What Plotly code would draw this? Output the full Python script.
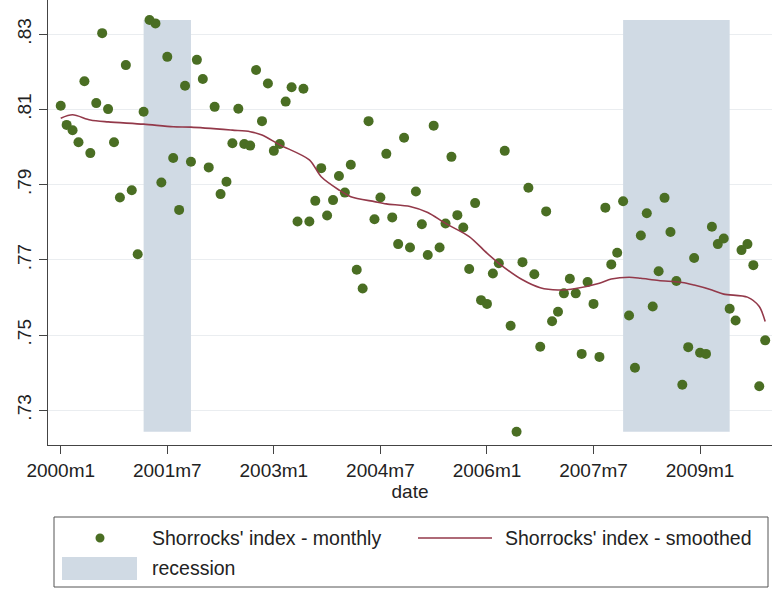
import plotly.graph_objects as go

# Shorrocks' mobility index, monthly observations 2000m1 .. 2009m12
monthly = [
    0.8110, 0.8059, 0.8045, 0.8013, 0.8175, 0.7984, 0.8117, 0.8303, 0.8101, 0.8013,
    0.7866, 0.8218, 0.7885, 0.7715, 0.8094, 0.8338, 0.8329, 0.7906, 0.8240, 0.7971,
    0.7833, 0.8163, 0.7961, 0.8232, 0.8181, 0.7946, 0.8107, 0.7875, 0.7908, 0.8010,
    0.8102, 0.8008, 0.8004, 0.8205, 0.8069, 0.8169, 0.7990, 0.8008, 0.8121, 0.8159,
    0.7802, 0.8155, 0.7802, 0.7857, 0.7944, 0.7818, 0.7859, 0.7923, 0.7879, 0.7953,
    0.7674, 0.7624, 0.8069, 0.7808, 0.7866, 0.7982, 0.7813, 0.7742, 0.8025, 0.7733,
    0.7882, 0.7795, 0.7713, 0.8057, 0.7733, 0.7797, 0.7974, 0.7819, 0.7786, 0.7676,
    0.7851, 0.7593, 0.7583, 0.7664, 0.7691, 0.7990, 0.7525, 0.7243, 0.7694, 0.7892,
    0.7662, 0.7469, 0.7829, 0.7537, 0.7562, 0.7611, 0.7650, 0.7611, 0.7450, 0.7641,
    0.7583, 0.7442, 0.7839, 0.7688, 0.7719, 0.7856, 0.7552, 0.7413, 0.7765, 0.7824,
    0.7576, 0.7670, 0.7865, 0.7774, 0.7644, 0.7368, 0.7468, 0.7705, 0.7453, 0.7450,
    0.7788, 0.7742, 0.7757, 0.7570, 0.7539, 0.7726, 0.7742, 0.7686, 0.7364, 0.7486,
]
months = list(range(len(monthly)))  # months since 2000m1

# Smoothed index, sampled at selected months
smooth_months = [0, 2, 5, 8, 14, 19, 22, 29, 32, 34, 37, 42, 44, 47, 49, 53, 55, 59,
                 62, 65, 69, 72, 74, 78, 81, 84, 87, 91, 93, 96, 98, 101, 105, 107,
                 110, 112, 116, 118, 119]
smoothed = [0.8077, 0.8086, 0.8072, 0.8067, 0.8061, 0.8054, 0.8053, 0.8045, 0.8041,
            0.8032, 0.8006, 0.7966, 0.7921, 0.7886, 0.7868, 0.7855, 0.7849, 0.7842,
            0.7826, 0.7797, 0.7762, 0.7718, 0.7691, 0.7647, 0.7626, 0.7620, 0.7624,
            0.7638, 0.7649, 0.7654, 0.7651, 0.7645, 0.7640, 0.7633, 0.7620, 0.7609,
            0.7601, 0.7576, 0.7536]

# NBER recessions (start month, end month), months since 2000m1
recession_start = [14, 95]   # 2001m3, 2007m12
recession_end = [22, 113]    # 2001m11, 2009m6

x_tick_months = [0, 18, 36, 54, 72, 90, 108]
x_tick_labels = ["2000m1", "2001m7", "2003m1", "2004m7", "2006m1", "2007m7", "2009m1"]
y_tick_values = [0.73, 0.75, 0.77, 0.79, 0.81, 0.83]
y_tick_labels = [".73", ".75", ".77", ".79", ".81", ".83"]

legend_labels = ["Shorrocks' index - monthly", "Shorrocks' index - smoothed", "recession"]

GREEN = "#4a6e23"
RED = "#93394a"
SHADE = "#d0dae4"
FONT = "Liberation Sans, Arial, sans-serif"

W, H = 772, 589
ML, MR, MT, MB = 48, 0, 0, 144
PW, PH = W - ML - MR, H - MT - MB


def px(xp):
    return (xp - ML) / PW


def py(yp):
    return (MT + PH - yp) / PH


fig = go.Figure()

fig.add_trace(go.Scatter(
    x=months, y=monthly, mode="markers",
    marker=dict(color=GREEN, size=10, line=dict(width=0)),
    name=legend_labels[0], showlegend=False,
))
fig.add_trace(go.Scatter(
    x=smooth_months, y=smoothed, mode="lines",
    line=dict(color=RED, width=1.6, shape="spline", smoothing=0.8),
    name=legend_labels[1], showlegend=False,
))

shapes = []
lo, hi = min(monthly), max(monthly)
for s, e in zip(recession_start, recession_end):
    shapes.append(dict(type="rect", xref="x", yref="y", x0=s, x1=e, y0=lo, y1=hi,
                       fillcolor=SHADE, line=dict(width=0), layer="between"))

# legend box drawn below the plot
shapes.append(dict(type="rect", xref="paper", yref="paper",
                   x0=px(54), x1=px(768), y0=py(587), y1=py(517),
                   line=dict(color="#555555", width=1), fillcolor="white"))
shapes.append(dict(type="circle", xref="paper", yref="paper",
                   x0=px(95.5), x1=px(104.5), y0=py(542.5), y1=py(533.5),
                   fillcolor=GREEN, line=dict(width=0)))
shapes.append(dict(type="line", xref="paper", yref="paper",
                   x0=px(418), x1=px(492), y0=py(538), y1=py(538),
                   line=dict(color=RED, width=1.6)))
shapes.append(dict(type="rect", xref="paper", yref="paper",
                   x0=px(62), x1=px(137), y0=py(580), y1=py(557),
                   fillcolor=SHADE, line=dict(width=0)))

annotations = []
for text, xp, yp in [(legend_labels[0], 150, 538), (legend_labels[1], 503, 538),
                     (legend_labels[2], 150, 568)]:
    annotations.append(dict(text=text, xref="paper", yref="paper", x=px(xp), y=py(yp),
                            xanchor="left", yanchor="middle", showarrow=False,
                            font=dict(family=FONT, size=19.5, color="#222222")))

fig.update_layout(
    width=W, height=H,
    margin=dict(l=ML, r=MR, t=MT, b=MB, pad=0),
    paper_bgcolor="white", plot_bgcolor="white",
    showlegend=False,
    shapes=shapes, annotations=annotations,
    font=dict(family=FONT, color="#222222"),
    xaxis=dict(
        range=[-2.15, 120.15],
        tickvals=x_tick_months, ticktext=x_tick_labels,
        tickfont=dict(size=19),
        ticks="outside", ticklen=8, tickcolor="#444444", tickwidth=1,
        showline=True, linecolor="#444444", linewidth=1,
        showgrid=False, zeroline=False,
        title=dict(text="date", font=dict(size=19), standoff=3),
    ),
    yaxis=dict(
        range=[0.72077, 0.83912],
        tickvals=y_tick_values, ticktext=y_tick_labels,
        tickangle=-90, tickfont=dict(size=19),
        ticks="outside", ticklen=8, tickcolor="#444444", tickwidth=1,
        showline=True, linecolor="#444444", linewidth=1,
        showgrid=True, gridcolor="#eaedf0", gridwidth=1,
        zeroline=False,
    ),
)

fig.write_html("out.html")
